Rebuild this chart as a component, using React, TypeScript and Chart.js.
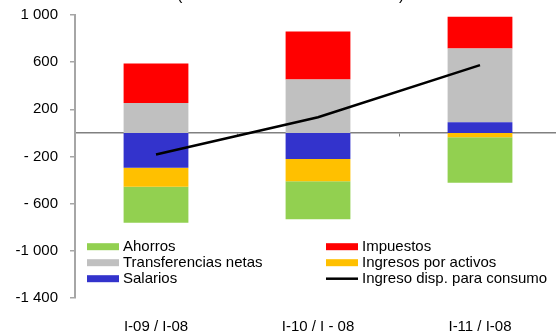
import { useEffect, useRef } from "react";
import { Chart, registerables } from "chart.js";

Chart.register(...registerables);

const FONT = '"Liberation Sans", Arial, Helvetica, sans-serif';

const categories = ["I-09 / I-08", "I-10 / I - 08", "I-11 / I-08"];
const salarios = [-296, -221, 90];
const ingresosActivos = [-160, -189, -36];
const ahorros = [-305, -322, -387];
const transferencias = [254, 454, 626];
const impuestos = [335, 406, 270];
const ingresoDisp = [-183, 133, 575];

const yTickValues = [-1400, -1000, -600, -200, 200, 600, 1000];
const yTickLabels = ["-1 400", "-1 000", "- 600", "- 200", "200", "600", "1 000"];

const COLORS = {
  salarios: "#3333CC",
  ingresos: "#FFC000",
  ahorros: "#92D050",
  transferencias: "#C0C0C0",
  impuestos: "#FF0000",
  line: "#000000",
};

const legendItems = [
  { label: "Ahorros", color: COLORS.ahorros, kind: "box" },
  { label: "Impuestos", color: COLORS.impuestos, kind: "box" },
  { label: "Transferencias netas", color: COLORS.transferencias, kind: "box" },
  { label: "Ingresos por activos", color: COLORS.ingresos, kind: "box" },
  { label: "Salarios", color: COLORS.salarios, kind: "box" },
  { label: "Ingreso disp. para consumo", color: COLORS.line, kind: "line" },
];

export default function App() {
  const ref = useRef<HTMLCanvasElement>(null);

  useEffect(() => {
    if (!ref.current) return;

    const legendPlugin = {
      id: "customLegend",
      afterDraw(chart: any) {
        const ctx = chart.ctx;
        ctx.save();
        ctx.font = `15px ${FONT}`;
        ctx.textBaseline = "middle";
        ctx.textAlign = "left";
        legendItems.forEach((item, i) => {
          const col = i % 2;
          const row = Math.floor(i / 2);
          const sx = col === 0 ? 87 : 326;
          const cy = 246.7 + row * 16;
          if (item.kind === "line") {
            ctx.strokeStyle = item.color;
            ctx.lineWidth = 2.5;
            ctx.beginPath();
            ctx.moveTo(sx, cy);
            ctx.lineTo(sx + 32, cy);
            ctx.stroke();
          } else {
            ctx.fillStyle = item.color;
            ctx.fillRect(sx, cy - 3.5, 32, 7);
          }
          ctx.fillStyle = "#000";
          ctx.fillText(item.label, sx + 36, cy + 0.5);
        });
        // cropped title fragments (only the bottoms of the parentheses are visible)
        ctx.font = `16px ${FONT}`;
        ctx.textBaseline = "alphabetic";
        ctx.fillStyle = "#000";
        ctx.fillText("(", 177, 0);
        ctx.fillText(")", 399, 0);
        ctx.restore();
      },
    };

    const chart = new Chart(ref.current, {
      type: "bar",
      data: {
        labels: categories,
        datasets: [
          {
            type: "line",
            label: "Ingreso disp. para consumo",
            data: ingresoDisp,
            borderColor: COLORS.line,
            borderWidth: 2.5,
            pointRadius: 0,
            tension: 0,
            order: 0,
            stack: "line",
            xAxisID: "x",
            yAxisID: "y",
          } as any,
          { label: "Salarios", data: salarios, backgroundColor: COLORS.salarios, order: 1, stack: "s" },
          { label: "Ingresos por activos", data: ingresosActivos, backgroundColor: COLORS.ingresos, order: 1, stack: "s" },
          { label: "Ahorros", data: ahorros, backgroundColor: COLORS.ahorros, order: 1, stack: "s" },
          { label: "Transferencias netas", data: transferencias, backgroundColor: COLORS.transferencias, order: 1, stack: "s" },
          { label: "Impuestos", data: impuestos, backgroundColor: COLORS.impuestos, order: 1, stack: "s" },
        ],
      },
      options: {
        responsive: false,
        animation: false,
        events: [],
        layout: { padding: { top: 15, left: 0, right: 0, bottom: 0 } },
        datasets: {
          bar: { categoryPercentage: 1, barPercentage: 0.4 },
        },
        plugins: {
          legend: { display: false },
          tooltip: { enabled: false },
          title: { display: false },
        },
        scales: {
          x: {
            type: "category",
            stacked: true,
            offset: true,
            position: { y: 0 } as any,
            grid: {
              offset: true,
              drawOnChartArea: false,
              drawTicks: true,
              tickLength: 3,
              color: "#808080",
              lineWidth: 1,
            },
            border: { display: true, color: "#808080", width: 1.5 },
            ticks: { display: false },
          },
          xl: {
            type: "category",
            position: "bottom",
            offset: true,
            grid: { display: false, drawTicks: false },
            border: { display: false },
            ticks: {
              font: { family: FONT, size: 15 },
              color: "#000",
              padding: 20,
              maxRotation: 0,
              autoSkip: false,
            },
            afterFit: (s: any) => {
              s.height = 38;
            },
          },
          y: {
            stacked: true,
            min: -1400,
            max: 1000,
            ticks: {
              stepSize: 400,
              font: { family: FONT, size: 15 },
              color: "#000",
              padding: 12,
              callback: (v: any) => {
                const i = yTickValues.indexOf(Number(v));
                return i >= 0 ? yTickLabels[i] : "";
              },
            },
            grid: {
              drawOnChartArea: false,
              drawTicks: true,
              tickLength: 5,
              color: "#a6a6a6",
              lineWidth: 1.5,
            },
            border: { display: true, color: "#a6a6a6", width: 2 },
            afterFit: (s: any) => {
              s.width = 75;
              s.paddingTop = 0;
              s.paddingBottom = 0;
            },
          },
        },
      } as any,
      plugins: [legendPlugin],
    });

    return () => chart.destroy();
  }, []);

  return (
    <div
      style={{
        position: "fixed",
        left: 0,
        top: 0,
        width: 561,
        height: 336,
        background: "#fff",
        overflow: "hidden",
      }}
    >
      <canvas ref={ref} width={561} height={336} style={{ width: 561, height: 336, display: "block" }} />
    </div>
  );
}
